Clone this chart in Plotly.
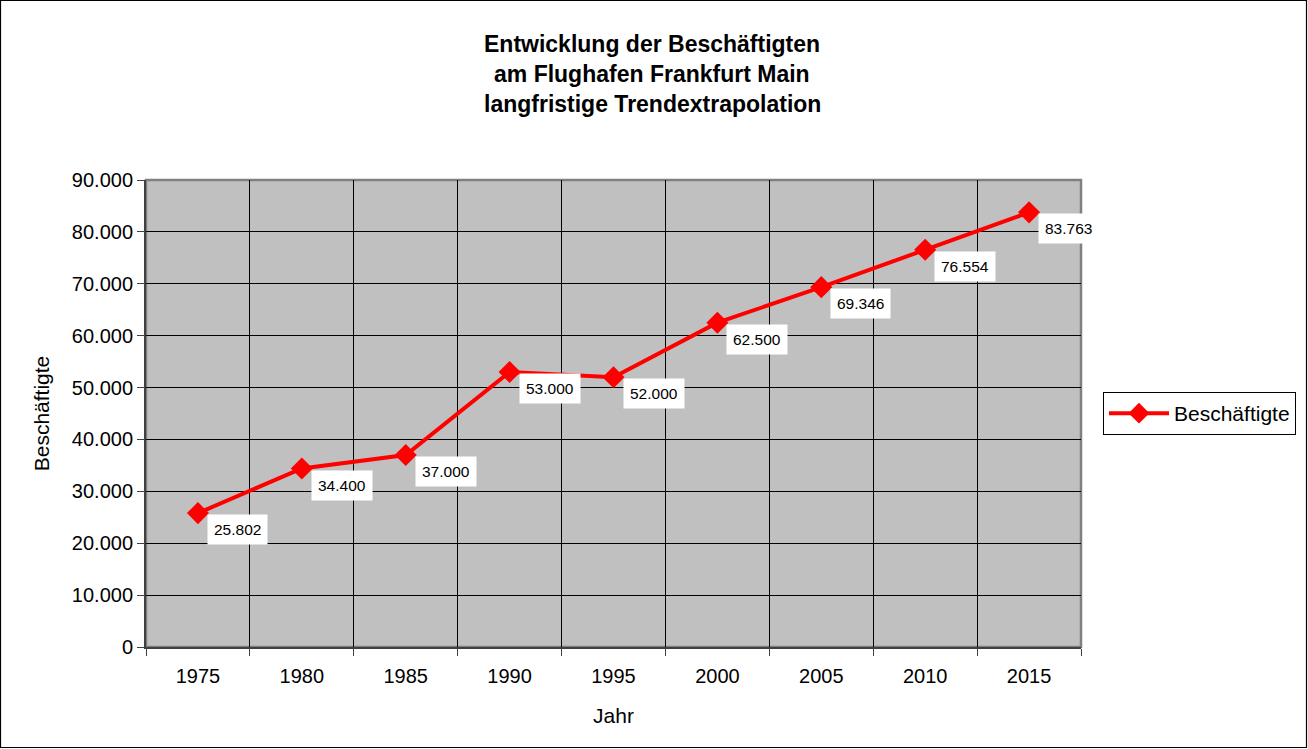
import plotly.graph_objects as go

jahre = ['1975', '1980', '1985', '1990', '1995', '2000', '2005', '2010', '2015']
beschaeftigte = [25802, 34400, 37000, 53000, 52000, 62500, 69346, 76554, 83763]
label_texte = ['25.802', '34.400', '37.000', '53.000', '52.000',
               '62.500', '69.346', '76.554', '83.763']
titel_zeilen = ['Entwicklung der Beschäftigten',
                'am Flughafen Frankfurt Main',
                'langfristige Trendextrapolation']

W, H = 1308, 749
L, R, T, B = 146, 227, 180, 102
pw, ph = W - L - R, H - T - B
FONT = 'Arial, Liberation Sans, sans-serif'

trace = go.Scatter(
    x=jahre, y=beschaeftigte, mode='lines+markers', name='Beschäftigte',
    line=dict(color='#ff0000', width=4),
    marker=dict(symbol='diamond', size=17, color='#ff0000'),
)

fig = go.Figure(data=[trace])

# data labels, white boxes below right of each point
for i, (v, t) in enumerate(zip(beschaeftigte, label_texte)):
    fig.add_annotation(x=i, y=v, xref='x', yref='y', text=t, showarrow=False,
                       xanchor='left', yanchor='top', xshift=9, yshift=-1,
                       bgcolor='white', borderpad=6,
                       font=dict(family=FONT, size=15.5, color='black'))

# title as three lines
for i, zeile in enumerate(titel_zeilen):
    ypix = 44 + 30 * i
    fig.add_annotation(xref='paper', yref='paper',
                       x=(W / 2 - 2 - L) / pw, y=(H - B - ypix) / ph,
                       text='<b>' + zeile + '</b>', showarrow=False,
                       xanchor='center', yanchor='middle',
                       font=dict(family=FONT, size=23, color='black'))

# outer chart border
fig.add_shape(type='rect', xref='paper', yref='paper',
              x0=(0.5 - L) / pw, x1=(W - 1.5 - L) / pw,
              y0=-(B - 1.5) / ph, y1=(H - 0.5 - B) / ph,
              line=dict(color='black', width=1.2), layer='below')
# plot area frame (top / right gray)
fig.add_shape(type='rect', xref='paper', yref='paper', x0=0, x1=1, y0=0, y1=1,
              line=dict(color='#808080', width=2.5), layer='below')

fig.update_layout(
    width=W, height=H,
    margin=dict(l=L, r=R, t=T, b=B, autoexpand=False),
    paper_bgcolor='white', plot_bgcolor='#c0c0c0',
    separators=',.',
    font=dict(family=FONT, size=20, color='black'),
    showlegend=True,
    legend=dict(x=(1103 - L) / pw, y=(H - B - 413.5) / ph,
                xanchor='left', yanchor='middle',
                bordercolor='black', borderwidth=1, bgcolor='white',
                font=dict(family=FONT, size=21), itemwidth=60),
    xaxis=dict(type='category', title=dict(text='Jahr', standoff=22,
                                           font=dict(size=21)),
               showgrid=True, gridcolor='black', gridwidth=1,
               tickson='boundaries', ticks='outside', ticklen=7,
               tickcolor='#404040', ticklabelstandoff=10,
               showline=True, linecolor='#404040', linewidth=2,
               range=[-0.5, 8.5], tickfont=dict(size=20)),
    yaxis=dict(range=[0, 90000], dtick=10000, tickformat=',d',
               title=dict(text='Beschäftigte', standoff=16,
                          font=dict(size=21)),
               showgrid=True, gridcolor='black', gridwidth=1,
               ticks='outside', ticklen=7, tickcolor='#404040',
               showline=True, linecolor='#404040', linewidth=2,
               zeroline=False, tickfont=dict(size=20)),
)

fig.write_html('out.html', config={'displayModeBar': False},
               post_script="document.body.style.margin='0';")
